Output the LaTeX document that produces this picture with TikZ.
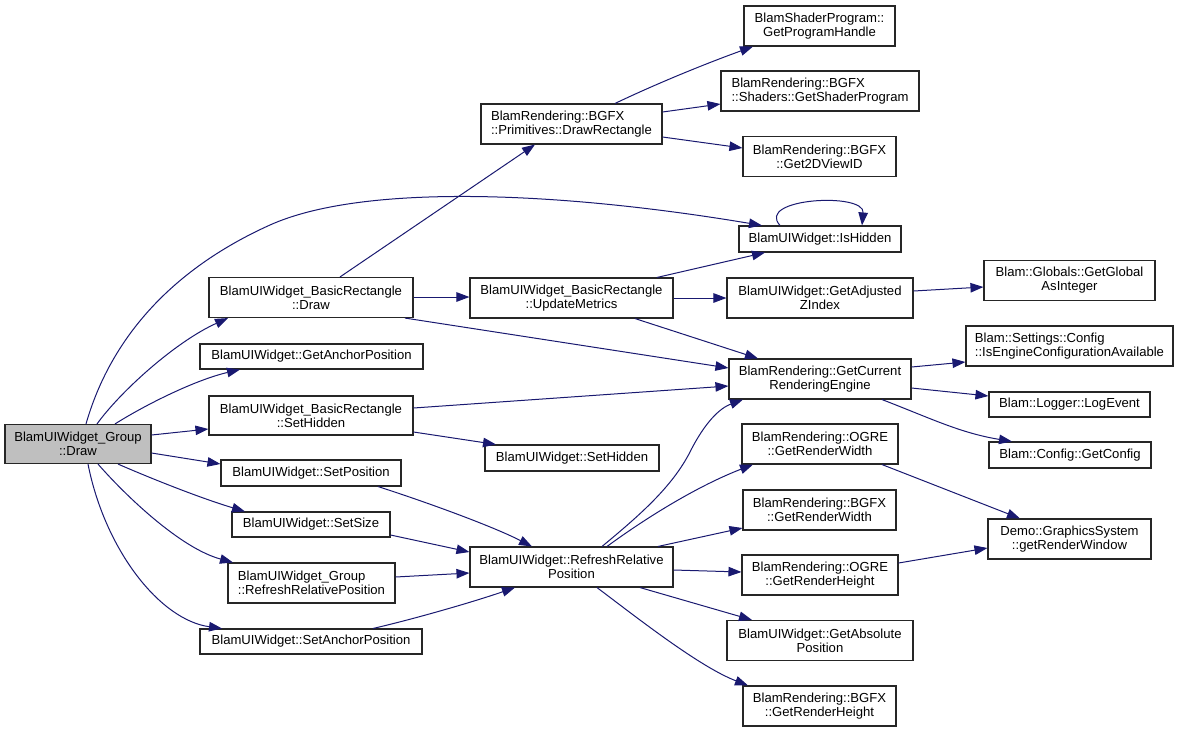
\documentclass[tikz,border=0pt]{standalone}
\usepackage{fontspec}
\setmainfont{Liberation Sans}
\usetikzlibrary{arrows.meta,calc}
\definecolor{edgeblue}{HTML}{191970}
\definecolor{boxgray}{HTML}{BFBFBF}
\begin{document}
\begin{tikzpicture}[x=1pt,y=-1pt,
  fn/.style={draw=black!85,line width=1.1pt,fill=white,inner sep=0pt,
    font=\fontsize{13.1}{14}\selectfont,align=center},
  fnl/.style={fn,align=left},
  call/.style={draw=edgeblue,line width=1pt,
    -{Triangle[length=13pt,width=9.5pt]},fill=none}]
\useasboundingbox (0,0) rectangle (1179,732);
% nodes
\node[fn,fill=boxgray,minimum width=146pt,minimum height=39pt] (gd) at (78,444) {BlamUIWidget\_Group\\::Draw};
\node[fn,minimum width=204pt,minimum height=40pt] (brd) at (311,297.5) {BlamUIWidget\_BasicRectangle\\::Draw};
\node[fn,minimum width=223pt,minimum height=25pt] (gap) at (311.5,356.5) {BlamUIWidget::GetAnchorPosition};
\node[fn,minimum width=204pt,minimum height=39pt] (brsh) at (311,415.5) {BlamUIWidget\_BasicRectangle\\::SetHidden};
\node[fn,minimum width=180pt,minimum height=26pt] (sp) at (311,473) {BlamUIWidget::SetPosition};
\node[fn,minimum width=158pt,minimum height=25pt] (ss) at (311,524.5) {BlamUIWidget::SetSize};
\node[fnl,minimum width=167pt,minimum height=40pt] (grp) at (311.5,583) {BlamUIWidget\_Group\\::RefreshRelativePosition};
\node[fn,minimum width=222pt,minimum height=25pt] (sap) at (311,641.5) {BlamUIWidget::SetAnchorPosition};
\node[fnl,minimum width=181pt,minimum height=40pt] (dr) at (571.5,124) {BlamRendering::BGFX\\::Primitives::DrawRectangle};
\node[fn,minimum width=203pt,minimum height=40pt] (um) at (571.5,298) {BlamUIWidget\_BasicRectangle\\::UpdateMetrics};
\node[fn,minimum width=174pt,minimum height=26pt] (sh) at (572,458) {BlamUIWidget::SetHidden};
\node[fn,minimum width=203pt,minimum height=40pt] (rrp) at (571.5,567) {BlamUIWidget::RefreshRelative\\Position};
\node[fn,minimum width=151pt,minimum height=40pt] (gph) at (819.5,26) {BlamShaderProgram::\\GetProgramHandle};
\node[fnl,minimum width=198pt,minimum height=40pt] (gsp) at (820,91) {BlamRendering::BGFX\\::Shaders::GetShaderProgram};
\node[fn,minimum width=153pt,minimum height=40pt] (g2d) at (819.5,156.5) {BlamRendering::BGFX\\::Get2DViewID};
\node[fn,minimum width=162pt,minimum height=26pt] (ih) at (820,239) {BlamUIWidget::IsHidden};
\node[fn,minimum width=186pt,minimum height=40pt] (gadj) at (820,298) {BlamUIWidget::GetAdjusted\\ZIndex};
\node[fn,minimum width=182pt,minimum height=40pt] (gcre) at (820,379) {BlamRendering::GetCurrent\\RenderingEngine};
\node[fn,minimum width=156pt,minimum height=40pt] (ogw) at (820,444) {BlamRendering::OGRE\\::GetRenderWidth};
\node[fn,minimum width=153pt,minimum height=40pt] (bgw) at (819.5,510) {BlamRendering::BGFX\\::GetRenderWidth};
\node[fn,minimum width=156pt,minimum height=40pt] (ogh) at (820,575) {BlamRendering::OGRE\\::GetRenderHeight};
\node[fn,minimum width=186pt,minimum height=40pt] (gabs) at (820,640.5) {BlamUIWidget::GetAbsolute\\Position};
\node[fn,minimum width=153pt,minimum height=40pt] (bgh) at (819.5,706) {BlamRendering::BGFX\\::GetRenderHeight};
\node[fn,minimum width=171pt,minimum height=40pt] (ggai) at (1069.5,280.5) {Blam::Globals::GetGlobal\\AsInteger};
\node[fnl,minimum width=207pt,minimum height=40pt] (iec) at (1069.5,346) {Blam::Settings::Config\\::IsEngineConfigurationAvailable};
\node[fn,minimum width=161pt,minimum height=25pt] (le) at (1069.5,404.5) {Blam::Logger::LogEvent};
\node[fn,minimum width=162pt,minimum height=26pt] (gc) at (1070,455) {Blam::Config::GetConfig};
\node[fn,minimum width=163pt,minimum height=40pt] (grw) at (1069.5,539) {Demo::GraphicsSystem\\::getRenderWindow};
% edges from Group::Draw
\draw[call] (97,0 |- gd.north) .. controls (120,392) and (175,342) .. (228,0 |- brd.south);
\draw[call] (115,0 |- gd.north) .. controls (145,405) and (195,380) .. (240,0 |- gap.south);
\draw[call] (86,0 |- gd.north) .. controls (110,340) and (170,270) .. (270,225) .. controls (360,184.5) and (550,190) .. (762,0 |- ih.north);
\draw[call] (gd.east |- 0,435) -- (brsh.west |- 0,429);
\draw[call] (gd.east |- 0,453) -- (sp.west |- 0,464);
\draw[call] (118,0 |- gd.south) .. controls (150,478) and (200,498) .. (245,0 |- ss.north);
\draw[call] (98,0 |- gd.south) .. controls (125,495) and (180,548) .. (233,0 |- grp.north);
\draw[call] (88,0 |- gd.south) .. controls (105,550) and (160,620) .. (222,0 |- sap.north);
% BasicRectangle::Draw
\draw[call] (340,0 |- brd.north) -- (535,0 |- dr.south);
\draw[call] (brd.east |- 0,297) -- (um.west |- 0,297);
\draw[call] (405,0 |- brd.south) -- (gcre.west |- 0,368);
% DrawRectangle
\draw[call] (615,0 |- dr.north) .. controls (660,82) and (710,62) .. (753,0 |- gph.south);
\draw[call] (dr.east |- 0,112) -- (gsp.west |- 0,104);
\draw[call] (dr.east |- 0,137) -- (g2d.west |- 0,148);
% UpdateMetrics
\draw[call] (657,0 |- um.north) -- (765,0 |- ih.south);
\draw[call] (um.east |- 0,298) -- (gadj.west |- 0,298);
\draw[call] (635,0 |- um.south) -- (758,0 |- gcre.north);
% IsHidden self loop
\draw[call] (780,0 |- ih.north) .. controls (755,198) and (865,192) .. (862,0 |- ih.north);
% GetAdjusted
\draw[call] (gadj.east |- 0,291) -- (ggai.west |- 0,287);
% GetCurrentRenderingEngine
\draw[call] (gcre.east |- 0,367) -- (iec.west |- 0,362);
\draw[call] (gcre.east |- 0,388) -- (le.west |- 0,396);
\draw[call] (882,0 |- gcre.south) .. controls (930,418) and (960,433) .. (1012,0 |- gc.north);
% BasicRectangle::SetHidden
\draw[call] (brsh.east |- 0,408) -- (gcre.west |- 0,386);
\draw[call] (brsh.east |- 0,432) -- (496,0 |- sh.north);
% into RefreshRelativePosition
\draw[call] (378,0 |- sp.south) .. controls (420,500) and (490,525) .. (532,0 |- rrp.north);
\draw[call] (ss.east |- 0,535) -- (rrp.west |- 0,552);
\draw[call] (grp.east |- 0,577) -- (rrp.west |- 0,573);
\draw[call] (373,0 |- sap.north) .. controls (410,620) and (470,603) .. (515,0 |- rrp.south);
% out of RefreshRelativePosition
\draw[call] (602,0 |- rrp.north) .. controls (640,515) and (672,487) .. (690,452) .. controls (705,422) and (720,408) .. (743,0 |- gcre.south);
\draw[call] (607,0 |- rrp.north) .. controls (650,515) and (700,485) .. (753,0 |- ogw.south);
\draw[call] (658,0 |- rrp.north) -- (bgw.west |- 0,528);
\draw[call] (rrp.east |- 0,570) -- (ogh.west |- 0,572);
\draw[call] (640,0 |- rrp.south) -- (752,0 |- gabs.north);
\draw[call] (597,0 |- rrp.south) .. controls (640,620) and (700,667) .. (748,0 |- bgh.north);
% render size -> window
\draw[call] (882,0 |- ogw.south) -- (1020,0 |- grw.north);
\draw[call] (ogh.east |- 0,563) -- (grw.west |- 0,548);
\end{tikzpicture}
\end{document}
